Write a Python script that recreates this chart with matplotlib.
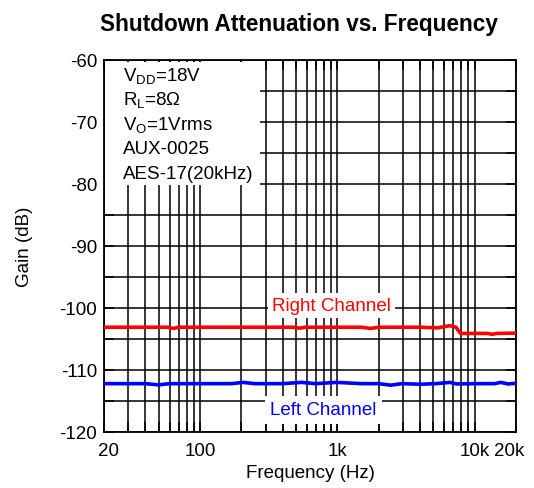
import numpy as np
import matplotlib.pyplot as plt
from matplotlib.patches import Rectangle
from matplotlib.transforms import ScaledTranslation

plt.rcParams['font.family'] = ['Liberation Sans', 'DejaVu Sans']
plt.rcParams['mathtext.fontset'] = 'custom'
plt.rcParams['mathtext.rm'] = 'Liberation Sans'
plt.rcParams['mathtext.it'] = 'Liberation Sans'
plt.rcParams['axes.unicode_minus'] = False

# data
freq_right = [20, 40, 58, 64, 70, 150, 300, 480, 530, 580, 1000, 1500, 1750, 2000, 2500,
              4000, 5400, 6600, 7300, 7900, 10000, 12500, 13300, 14500, 20000]
gain_right = [-103.1, -103.1, -103.1, -103.3, -103.1, -103.1, -103.1, -103.1, -103.25, -103.1,
              -103.1, -103.1, -103.3, -103.1, -103.1, -103.1, -103.2, -102.85, -103.1, -104.1,
              -104.1, -104.1, -104.25, -104.1, -104.05]
freq_left = [20, 40, 50, 60, 100, 170, 206, 250, 400, 546, 700, 989, 1500, 2000, 2450, 2950,
             4000, 5200, 6600, 7400, 10000, 14000, 15500, 17500, 20000]
gain_left = [-112.2, -112.2, -112.4, -112.2, -112.2, -112.2, -112.0, -112.2, -112.2, -112.0,
             -112.2, -112.0, -112.2, -112.2, -112.45, -112.2, -112.3, -112.2, -112.0, -112.25,
             -112.2, -112.2, -112.0, -112.25, -112.15]

info_lines = [r'V$_{\mathrm{DD}}$=18V', r'R$_{\mathrm{L}}$=8$\Omega$', r'V$_{\mathrm{O}}$=1Vrms',
              'AUX-0025', 'AES-17(20kHz)']
x_ticks = [20, 100, 1000, 10000, 20000]
x_labels = ['20', '100', '1k', '10k', '20k']

W, H = 534, 489
fig = plt.figure(figsize=(W / 100, H / 100), dpi=100)
ax = fig.add_axes([104 / W, 1 - 433 / H, 412 / W, 372 / H])

ax.plot(freq_right, gain_right, color='#ff0000', lw=2.6, zorder=3)
ax.plot(freq_left, gain_left, color='#0000ff', lw=2.6, zorder=3)

ax.set_xscale('log')
ax.set_xlim(20, 20000)
ax.set_ylim(-120, -60)
ax.set_xticks(x_ticks)
ax.set_xticklabels(x_labels)
ax.set_xticks([m * 10 ** d for d in range(1, 5) for m in range(2, 10)
               if 20 < m * 10 ** d < 20000], minor=True)
ax.xaxis.set_minor_formatter(plt.NullFormatter())
ax.set_yticks(np.arange(-120, -59, 10))
ax.set_yticks(np.arange(-115, -60, 10), minor=True)
ax.grid(True, which='both', color='black', lw=1.1, zorder=1)
ax.tick_params(which='both', direction='in', length=7, width=1.1, top=True, right=True,
               labelsize=13.5)
ax.tick_params(axis='x', pad=7)
ax.tick_params(axis='y', pad=5)
for s in ax.spines.values():
    s.set_linewidth(1.3)

# nudge the end labels inward like the original
xl = ax.get_xticklabels()
xl[0].set_transform(xl[0].get_transform() + ScaledTranslation(5 / 100, 0, fig.dpi_scale_trans))
xl[-1].set_transform(xl[-1].get_transform() + ScaledTranslation(-7 / 100, 0, fig.dpi_scale_trans))

ax.set_xlabel('Frequency (Hz)', fontsize=13.5, labelpad=4)
ax.set_ylabel('Gain (dB)', fontsize=13.5, labelpad=19)
fig.text(299 / W, 1 - 24 / H, 'Shutdown Attenuation vs. Frequency', fontsize=16.3,
         fontweight='bold', ha='center', va='center')

# white box behind the conditions text
ax.add_patch(Rectangle((0.003, 0.665), 0.375, 0.33, transform=ax.transAxes,
                       facecolor='white', edgecolor='none', zorder=2))
for i, line in enumerate(info_lines):
    ax.text(0.045, 0.96 - i * 0.066, line, transform=ax.transAxes, fontsize=13.5,
            va='center', ha='left', zorder=4)

ax.text(908, -99.6, 'Right Channel', color='#ff0000', fontsize=13.5, ha='center', va='center',
        bbox=dict(facecolor='white', edgecolor='none', pad=3), zorder=4)
ax.text(794, -116.45, 'Left Channel', color='#0000ff', fontsize=13.5, ha='center', va='center',
        bbox=dict(facecolor='white', edgecolor='none', pad=4), zorder=4)

fig.savefig('out.png', dpi=100)
